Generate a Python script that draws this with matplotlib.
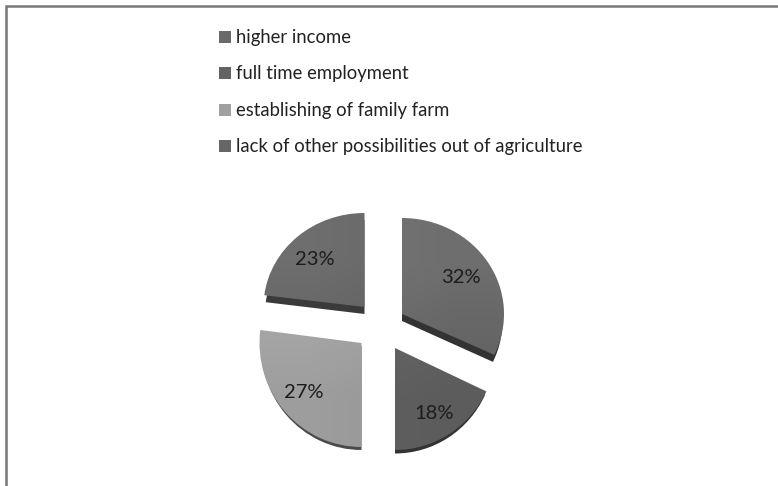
import matplotlib
matplotlib.use("Agg")
import matplotlib.pyplot as plt
import numpy as np
from matplotlib.patches import Wedge
from matplotlib.transforms import Affine2D

labels = ["higher income", "full time employment", "establishing of family farm",
          "lack of other possibilities out of agriculture"]
shares = [32, 18, 27, 23]

# slice centre and radii on the canvas (3d tilt makes each one a bit different)
centres = [(402, 314), (395, 348), (361.5, 343), (364.5, 307)]
radii = [(102, 96), (101, 102), (102, 104), (101, 94)]
depths = [7, 3.5, 3, 7]
label_offsets = [(59, -37), (39, 65), (-58, 49), (-50, -48)]

light = ["#747474", "#686868", "#aaaaaa", "#6e6e6e"]
dark = ["#636363", "#5c5c5c", "#979797", "#5e5e5e"]
side = ["#333333", "#333333", "#4a4a4a", "#3a3a3a"]
legend_cols = ["#6a6a6a", "#636363", "#a0a0a0", "#666666"]
legend_y = [37, 73, 110, 146]

plt.rcParams["font.family"] = ["Lato", "DejaVu Sans"]

fig = plt.figure(figsize=(7.78, 4.86), dpi=100)
ax = fig.add_axes([0, 0, 1, 1])

start = 90.0
for i in range(len(shares)):
    sweep = shares[i] * 3.6
    cx, cy = centres[i]
    rx, ry = radii[i]

    # side of the slice first, same wedge pushed down and pulled in a little
    tr = Affine2D().scale(rx - 1.5, -ry).translate(cx, cy + depths[i]) + ax.transData
    ax.add_patch(Wedge((0, 0), 1, start - sweep, start, fc=side[i], ec="none", transform=tr))

    # top face with a soft diagonal shading
    tr = Affine2D().scale(rx, -ry).translate(cx, cy) + ax.transData
    shade = np.array([[0.0, 0.35], [0.65, 1.0]])
    im = ax.imshow(shade, extent=(cx - rx, cx + rx, cy + ry, cy - ry), aspect="auto",
                   interpolation="bilinear", zorder=2,
                   cmap=matplotlib.colors.LinearSegmentedColormap.from_list("s", [light[i], dark[i]]))
    face = Wedge((0, 0), 1, start - sweep, start, fc="none", ec="none", transform=tr)
    ax.add_patch(face)
    im.set_clip_path(face)

    ax.text(cx + label_offsets[i][0], cy + label_offsets[i][1], f"{shares[i]}%",
            ha="center", va="center", fontsize=14.5, color="#1c1c1c", zorder=3)
    start -= sweep

for i in range(len(labels)):
    ax.scatter(225, legend_y[i], marker="s", s=72, c=legend_cols[i], linewidths=0)
    ax.text(236, legend_y[i], labels[i], ha="left", va="center", fontsize=13.35, color="#222222")

# frame only on the top and left
ax.plot([778, 6.5, 6.5], [6.5, 6.5, 486], color="#777777", lw=1.8, solid_joinstyle="miter")

ax.set_xlim(0, 778)
ax.set_ylim(486, 0)
ax.axis("off")

fig.savefig("out.png", dpi=100)
